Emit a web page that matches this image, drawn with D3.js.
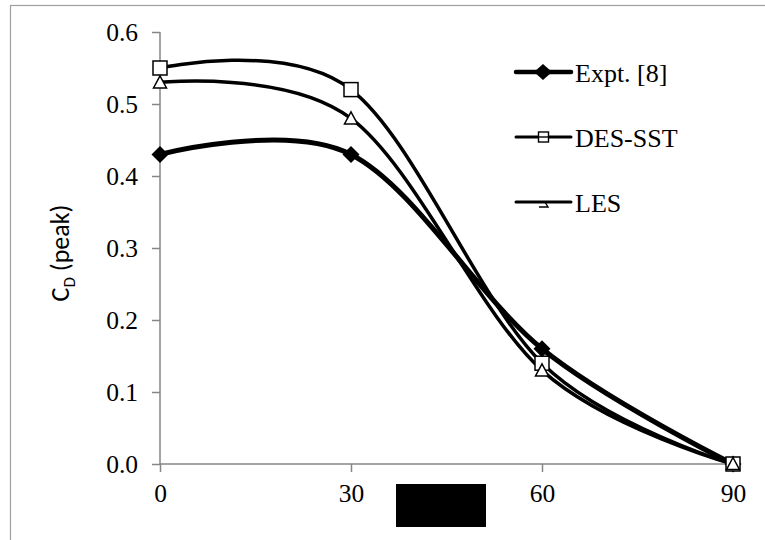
<!DOCTYPE html>
<html><head><meta charset="utf-8">
<script src="https://cdn.jsdelivr.net/npm/d3@7"></script>
<style>body{margin:0;background:#fff}</style>
</head><body>
<svg id="c" width="765" height="540"></svg>
<script>
const angles = [0, 30, 60, 90];
const expt = [0.43, 0.43, 0.16, 0.0];
const desSst = [0.55, 0.52, 0.14, 0.0];
const les = [0.53, 0.48, 0.13, 0.0];
const yTicks = [0, 0.1, 0.2, 0.3, 0.4, 0.5, 0.6];
const xTicks = [0, 30, 60, 90];
const seriesNames = ["Expt. [8]", "DES-SST", "LES"];

const svg = d3.select("#c");
const x = d3.scaleLinear().domain([0, 90]).range([160, 733]);
const y = d3.scaleLinear().domain([0, 0.6]).range([464, 32]);
const axisColor = "#868686";
const serif = "'Liberation Serif','Times New Roman',serif";

// chart border
svg.append("rect").attr("x", 10.5).attr("y", 5.5).attr("width", 800).attr("height", 600)
  .attr("fill", "none").attr("stroke", "#a0a0a0").attr("stroke-width", 1.2);

// axes
const yAxis = d3.axisLeft(y).tickValues(yTicks).tickFormat(d3.format(".1f")).tickSize(8).tickPadding(14);
const gy = svg.append("g").attr("transform", "translate(160,0)").call(yAxis);
const xAxis = d3.axisBottom(x).tickValues(xTicks).tickFormat(d3.format("d")).tickSize(8).tickPadding(12);
const gx = svg.append("g").attr("transform", "translate(0,464)").call(xAxis);
[gy, gx].forEach(g => {
  g.attr("font-size", null).attr("font-family", null);
  g.select(".domain").attr("stroke", axisColor).attr("stroke-width", 1.5);
  g.selectAll(".tick line").attr("stroke", axisColor).attr("stroke-width", 1.5);
  g.selectAll(".tick text").attr("fill", "#000").style("font-family", serif).style("font-size", "25.5px");
});
gy.select(".domain").attr("d", "M0,32V464");
gx.select(".domain").attr("d", "M160,0H733");

// y label
const yl = svg.append("text").attr("transform", "translate(69,253) rotate(-90)")
  .attr("text-anchor", "middle").style("font-family", "Carlito,'Liberation Sans',Arial,sans-serif")
  .style("font-size", "26px").attr("fill", "#000");
yl.append("tspan").text("C");
yl.append("tspan").attr("dy", 6).style("font-size", "17px").text("D");
yl.append("tspan").attr("dy", -6).text(" (peak)");

// redaction box under x axis
svg.append("rect").attr("x", 396).attr("y", 484).attr("width", 90).attr("height", 43).attr("fill", "#000");

const line = d3.line().x(d => x(d[0])).y(d => y(d[1])).curve(d3.curveCardinal.tension(0));

const series = [
  {name: seriesNames[0], vals: expt, w: 5, marker: "diamond"},
  {name: seriesNames[1], vals: desSst, w: 3.5, marker: "square"},
  {name: seriesNames[2], vals: les, w: 3.5, marker: "triangle"}
];

function drawMarker(g, type, cx, cy) {
  if (type === "diamond") {
    const r = 8.5;
    g.append("path").attr("d", `M${cx},${cy - r}L${cx + r},${cy}L${cx},${cy + r}L${cx - r},${cy}Z`).attr("fill", "#000");
  } else if (type === "square") {
    const h = 7;
    g.append("rect").attr("x", cx - h).attr("y", cy - h).attr("width", 2 * h).attr("height", 2 * h)
      .attr("fill", "#fff").attr("stroke", "#000").attr("stroke-width", 1.5);
  } else {
    const h = 6.5;
    g.append("path").attr("d", `M${cx},${cy - h}L${cx + h},${cy + h * 0.85}L${cx - h},${cy + h * 0.85}Z`)
      .attr("fill", "#fff").attr("stroke", "#000").attr("stroke-width", 1.5);
  }
}

const gl = svg.append("g");
series.forEach(s => {
  const pts = angles.map((a, i) => [a, s.vals[i]]);
  gl.append("path").attr("d", line(pts)).attr("fill", "none").attr("stroke", "#000").attr("stroke-width", s.w);
});
series.forEach(s => {
  angles.forEach((a, i) => drawMarker(gl, s.marker, x(a), y(s.vals[i])));
});

// legend
const legY = [72, 137, 202];
series.forEach((s, i) => {
  const g = svg.append("g");
  g.append("line").attr("x1", 516).attr("x2", 571).attr("y1", legY[i]).attr("y2", legY[i])
    .attr("stroke", "#000").attr("stroke-width", i === 0 ? 4.5 : 3).attr("stroke-linecap", "round");
  if (i === 0) {
    g.append("path").attr("d", `M543,${legY[i] - 8}L552,${legY[i]}L543,${legY[i] + 8}L534,${legY[i]}Z`).attr("fill", "#000");
  } else if (i === 1) {
    g.append("rect").attr("x", 538.5).attr("y", legY[i] - 5).attr("width", 10).attr("height", 10)
      .attr("fill", "#fff").attr("stroke", "#000").attr("stroke-width", 1.4);
    g.append("line").attr("x1", 538.5).attr("x2", 548.5).attr("y1", legY[i]).attr("y2", legY[i])
      .attr("stroke", "#000").attr("stroke-width", 1.4);
  } else {
    g.append("path").attr("d", `M539,${legY[i] + 5}H548L545,${legY[i]}`)
      .attr("fill", "none").attr("stroke", "#000").attr("stroke-width", 1.4);
  }
  g.append("text").attr("x", 575).attr("y", legY[i] + 10).text(s.name)
    .style("font-family", serif).style("font-size", "26px").attr("fill", "#000");
});
</script>
</body></html>
